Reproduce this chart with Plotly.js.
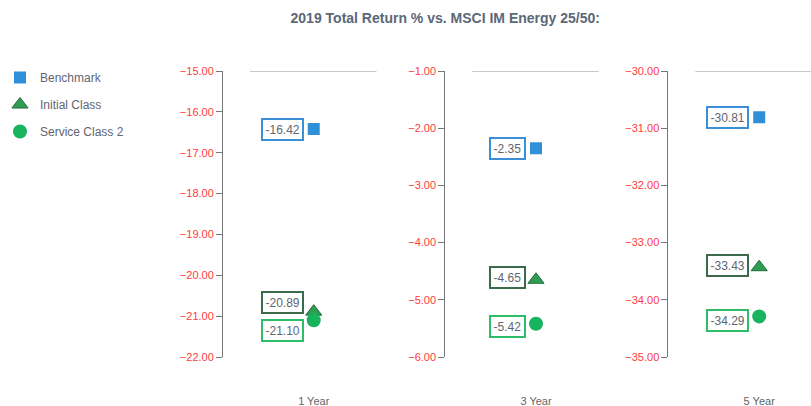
<!DOCTYPE html>
<html>
<head>
<meta charset="utf-8">
<script src="https://cdn.plot.ly/plotly-3.0.1.min.js"></script>
<style>html,body{margin:0;padding:0;background:#fff;}#chart{width:811px;height:406px;}</style>
</head>
<body>
<div id="chart"></div>
<script>
const categories = ['1 Year', '3 Year', '5 Year'];
const seriesNames = ['Benchmark', 'Initial Class', 'Service Class 2'];
const benchmark = [-16.42, -2.35, -30.81];
const initialClass = [-20.89, -4.65, -33.43];
const serviceClass2 = [-21.10, -5.42, -34.29];
const yMin = [-22, -6, -35];
const yMax = [-15, -1, -30];

const seriesValues = [benchmark, initialClass, serviceClass2];
const markerStyles = [
  {symbol: 'square', size: 12, color: '#2f8fd8', line: {width: 0}},
  {symbol: 'triangle-up', size: 14, color: '#2f9e53', line: {width: 1, color: '#1f6b3a'}},
  {symbol: 'circle', size: 14, color: '#18b35d', line: {width: 0}}
];
const boxColors = ['#3a8fd6', '#3c6b4b', '#2dbd69'];
// label offsets (px) to avoid overlaps, per series per panel
const labelShift = [[0, 0, 0], [9, 2, 2], [-10, -3, -4]];

const domains = [[0, 0.2424], [0.378, 0.6204], [0.7576, 1]];
const axisSuffix = ['', '2', '3'];

const traces = [];
const annotations = [];
seriesValues.forEach((vals, s) => {
  categories.forEach((cat, i) => {
    traces.push({
      type: 'scatter', mode: 'markers',
      x: [cat], y: [vals[i]],
      xaxis: 'x' + axisSuffix[i], yaxis: 'y' + axisSuffix[i],
      name: seriesNames[s],
      legendgroup: seriesNames[s],
      showlegend: i === 0,
      marker: markerStyles[s],
      hoverinfo: 'skip'
    });
    annotations.push({
      x: cat, y: vals[i],
      xref: 'x' + axisSuffix[i], yref: 'y' + axisSuffix[i],
      text: vals[i].toFixed(2),
      showarrow: false,
      xanchor: 'right', yanchor: 'middle',
      xshift: -10, yshift: labelShift[s][i],
      font: {family: 'Liberation Sans, Arial, sans-serif', size: 12, color: '#5f6670'},
      bgcolor: '#ffffff',
      bordercolor: boxColors[s], borderwidth: 2, borderpad: 2.5
    });
  });
});

const layout = {
  width: 811, height: 406,
  margin: {l: 221, r: 0, t: 71, b: 49},
  paper_bgcolor: '#ffffff', plot_bgcolor: '#ffffff',
  font: {family: 'Liberation Sans, Arial, sans-serif', color: '#666'},
  title: {
    text: '<b>2019 Total Return % vs. MSCI IM Energy 25/50:</b>',
    font: {size: 14, color: '#5b6877', family: 'Liberation Sans, Arial, sans-serif'},
    x: 0.549, xref: 'container', xanchor: 'center',
    y: 0.955, yref: 'container', yanchor: 'middle'
  },
  showlegend: true,
  legend: {
    x: -0.38, xanchor: 'left', y: 1.028, yanchor: 'top',
    traceorder: 'grouped', tracegroupgap: 8,
    font: {size: 12, color: '#5f6670'},
    bgcolor: 'rgba(0,0,0,0)'
  },
  annotations: annotations,
  shapes: []
};

categories.forEach((cat, i) => {
  layout['xaxis' + axisSuffix[i]] = {
    domain: domains[i], anchor: 'y' + axisSuffix[i],
    type: 'category', range: [-1, 0.571],
    showline: false, showgrid: false, zeroline: false, ticks: '',
    ticklabelstandoff: 36,
    tickfont: {size: 11, color: '#666'},
    fixedrange: true
  };
  layout['yaxis' + axisSuffix[i]] = {
    domain: [0, 1], anchor: 'x' + axisSuffix[i],
    range: [yMin[i], yMax[i]], dtick: 1, tick0: 0, tickformat: '.2f',
    showline: true, linecolor: '#777', linewidth: 1,
    ticks: 'outside', ticklen: 6, tickcolor: '#777', tickwidth: 1,
    showgrid: false, zeroline: false,
    tickfont: {size: 11, color: '#ff3b3b'},
    fixedrange: true
  };
  const d0 = domains[i][0];
  layout.shapes.push({
    type: 'line', xref: 'paper', yref: 'y' + axisSuffix[i],
    x0: d0 + 27 / 590, x1: Math.min(d0 + 154 / 590, 1.02),
    y0: yMax[i], y1: yMax[i],
    line: {color: '#c8c8c8', width: 2}
  });
});

Plotly.newPlot('chart', traces, layout, {displayModeBar: false, staticPlot: true});
</script>
</body>
</html>
